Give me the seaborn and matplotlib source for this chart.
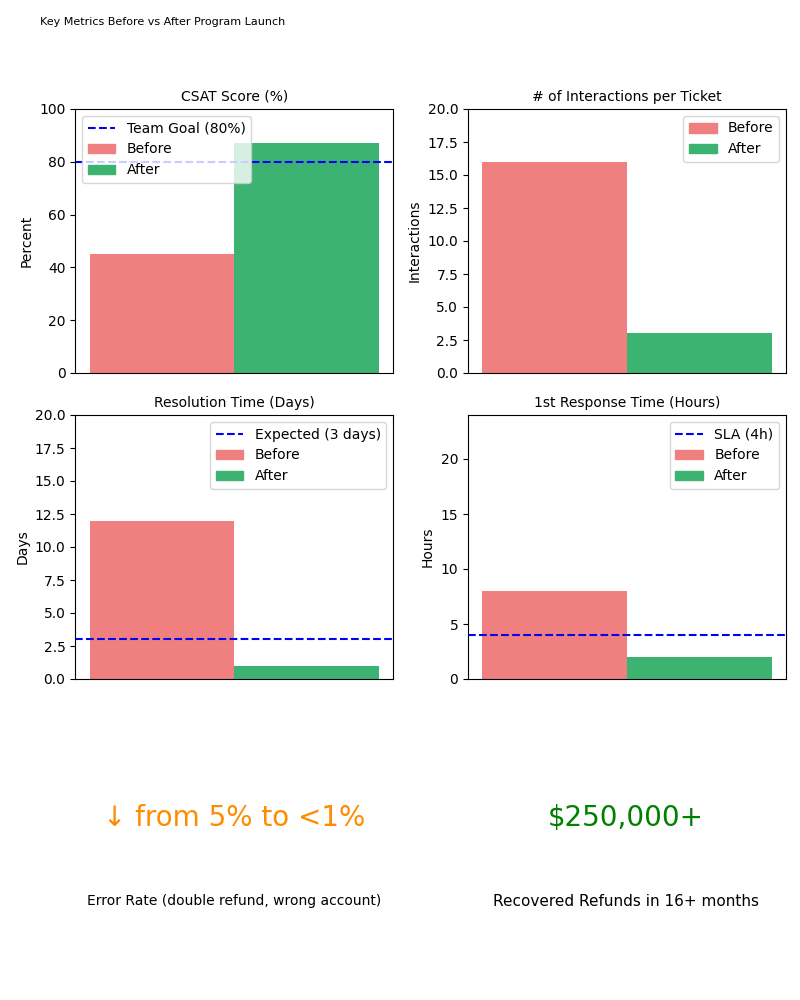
import matplotlib
matplotlib.use("Agg")
import matplotlib.pyplot as plt
import seaborn as sns
from matplotlib.patches import Patch

phases = ["Before", "After"]
csat = [45, 87]
interactions = [16, 3]
resolution_days = [12, 1]
response_hours = [8, 2]
colors = {"Before": "lightcoral", "After": "mediumseagreen"}


def bar_panel(ax, values, title, ylabel, ylim, ref=None, ref_label=None, loc="upper right"):
    sns.barplot(x=phases, y=values, hue=phases, palette=colors, width=1,
                legend=False, ax=ax, saturation=1)
    handles = []
    if ref is not None:
        line = ax.axhline(ref, color="blue", linestyle="--", label=ref_label)
        handles.append(line)
    handles += [Patch(color=colors[p], label=p) for p in phases]
    ax.legend(handles=handles, loc=loc)
    ax.set_xlim(-0.6, 1.6)
    ax.set_xticks([])
    ax.set_ylim(*ylim)
    ax.set_title(title, fontsize=10)
    ax.set_ylabel(ylabel)
    ax.set_xlabel("")


fig = plt.figure(figsize=(8, 10), dpi=100)
w, h = 0.3975, 0.264
ax1 = fig.add_axes([0.094, 0.627, w, h])
ax2 = fig.add_axes([0.585, 0.627, w, h])
ax3 = fig.add_axes([0.094, 0.321, w, h])
ax4 = fig.add_axes([0.585, 0.321, w, h])

bar_panel(ax1, csat, "CSAT Score (%)", "Percent", (0, 100), 80, "Team Goal (80%)", "upper left")
bar_panel(ax2, interactions, "# of Interactions per Ticket", "Interactions", (0, 20))
bar_panel(ax3, resolution_days, "Resolution Time (Days)", "Days", (0, 20), 3, "Expected (3 days)")
bar_panel(ax4, response_hours, "1st Response Time (Hours)", "Hours", (0, 24), 4, "SLA (4h)")
ax4.set_yticks([0, 5, 10, 15, 20])

fig.text(0.05, 0.975, "Key Metrics Before vs After Program Launch", fontsize=8)
fig.text(0.2925, 0.182, "↓ from 5% to <1%", color="darkorange", fontsize=20, ha="center", va="center")
fig.text(0.2925, 0.099, "Error Rate (double refund, wrong account)", fontsize=10, ha="center", va="center")
fig.text(0.7825, 0.182, "$250,000+", color="green", fontsize=20, ha="center", va="center")
fig.text(0.7825, 0.099, "Recovered Refunds in 16+ months", fontsize=11, ha="center", va="center")

fig.savefig("out.png")
